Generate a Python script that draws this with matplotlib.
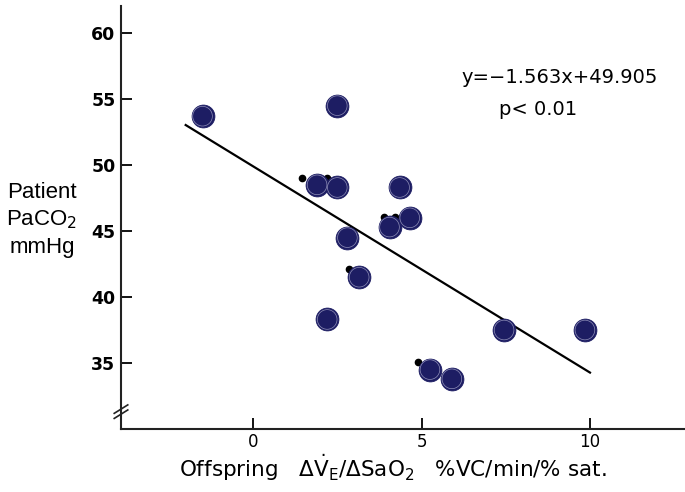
import matplotlib
matplotlib.use("Agg")
import matplotlib.pyplot as plt
import numpy as np

# offspring response (x) vs patient PaCO2 (y), big navy markers
off_x = [-1.5, 2.5, 1.9, 2.5, 4.35, 4.65, 4.05, 2.8, 3.15, 2.2, 7.45, 9.85, 5.25, 5.9]
pac_y = [53.7, 54.5, 48.5, 48.3, 48.3, 46.0, 45.3, 44.5, 41.5, 38.3, 37.5, 37.5, 34.5, 33.8]

# small black dots from the original figure
dot_x = [1.45, 2.2, 3.9, 4.2, 2.85, 4.9]
dot_y = [49.0, 49.0, 46.1, 46.1, 42.1, 35.1]

slope, intercept = -1.563, 49.905
line_x = np.array([-2.0, 10.0])

y_ticks = [35, 40, 45, 50, 55, 60]
x_ticks = [0, 5, 10]

plt.rcParams['mathtext.fontset'] = 'dejavusans'

fig = plt.figure(figsize=(6.85, 4.92), dpi=100)
ax = fig.add_axes([121 / 685, 63 / 492, (685 - 121) / 685, (429 - 6) / 492])
ax.set_xlim(-3.92, 12.82)
ax.set_ylim(30, 62.05)

# regression line
ax.plot(line_x, slope * line_x + intercept, color='black', lw=1.6, zorder=2)

ax.plot(dot_x, dot_y, 'o', color='black', ms=4.5, zorder=3)

# navy circles with a faint inner ring
ax.scatter(off_x, pac_y, s=270, color='#1d1d63', edgecolors='#1d1d63', lw=0.6, zorder=4)
ax.scatter(off_x, pac_y, s=200, facecolors='none', edgecolors='#8f8fb8', lw=0.5, zorder=5)

for side in ['top', 'right']:
    ax.spines[side].set_visible(False)
for side in ['left', 'bottom']:
    ax.spines[side].set_linewidth(1.5)
    ax.spines[side].set_color('#222222')

ax.set_yticks(y_ticks)
ax.set_xticks(x_ticks)
ax.tick_params(axis='y', direction='in', length=8, width=1.3, pad=4, labelsize=12.5)
ax.tick_params(axis='x', direction='in', length=8, width=1.3, pad=3, labelsize=12)
for lab in ax.get_yticklabels():
    lab.set_fontweight('bold')

# axis break marks
for dy in [0.0, 0.012]:
    ax.plot([-0.012, 0.012], [0.025 + dy, 0.045 + dy], transform=ax.transAxes,
            color='#222222', lw=1.2, clip_on=False)

ax.text(9.1, 56.6, 'y=\u22121.563x+49.905', fontsize=14, ha='center', va='center')
ax.text(8.45, 54.2, 'p< 0.01', fontsize=14, ha='center', va='center')

fig.text(42 / 685, 1 - 220 / 492, 'Patient\nPaCO$_2$\nmmHg', family='Liberation Sans',
         fontsize=16, ha='center', va='center', linespacing=1.35)

fig.text(393 / 685, 1 - 468 / 492,
         r'Offspring   $\Delta\dot{\mathrm{V}}_{\mathrm{E}}/\Delta\mathrm{SaO}_2$   %VC/min/% sat.',
         fontsize=15.5, ha='center', va='center')

fig.savefig('out.png', dpi=100)
